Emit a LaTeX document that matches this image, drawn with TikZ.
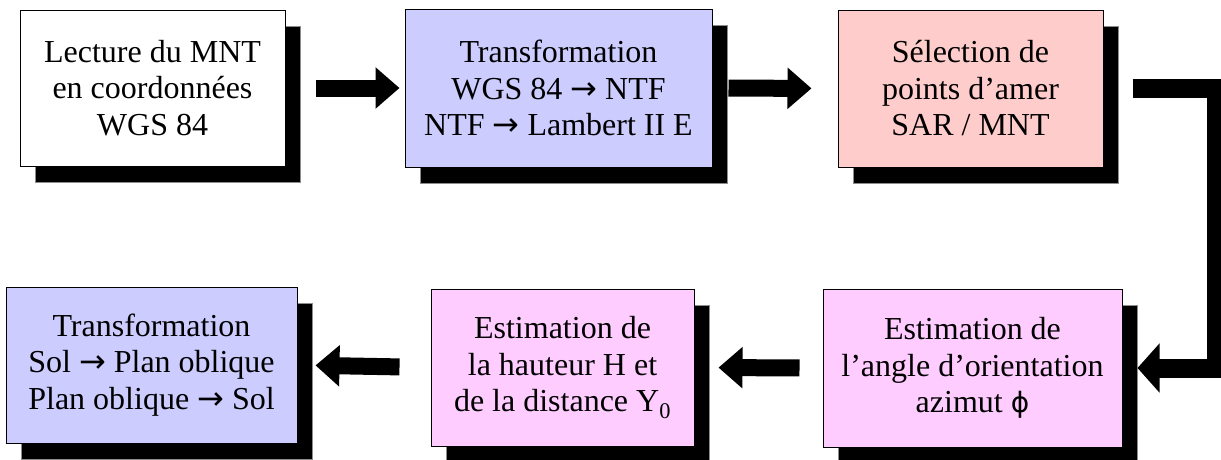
\documentclass[tikz,border=0pt]{standalone}
\usepackage{fontspec}
\setmainfont{Liberation Serif}
\newfontfamily\symfont{DejaVu Sans}
\usepackage{tikz}
\usetikzlibrary{arrows.meta,shadows}
\definecolor{lavbox}{RGB}{204,204,255}
\definecolor{rosebox}{RGB}{255,204,204}
\definecolor{mauvebox}{RGB}{255,204,255}
\def\toarrow{{\symfont\fontsize{32}{30}\selectfont\char"2192}}
\tikzset{
	stepbox/.style={draw=black, line width=1pt, inner sep=0pt, align=center,
		font=\fontsize{32}{36.5}\selectfont,
		drop shadow={shadow xshift=15pt, shadow yshift=-16pt, fill=black, draw=black!45, opacity=1}},
	flow/.style={line width=17pt, -{Triangle[length=24pt,width=40pt]}}
}

\begin{document}
\begin{tikzpicture}[x=1pt, y=-1pt]
			%%%%% START %%%%%
			
			\useasboundingbox (0, 0) rectangle (1221, 459);
			
			\node[stepbox, fill=white, minimum width=265pt, minimum height=156pt] (b1) at (152.5, 88)
				{Lecture du MNT\\en coordonnées\\WGS 84};
			\node[stepbox, fill=lavbox, minimum width=307pt, minimum height=158pt] (b2) at (558.5, 88)
				{Transformation\\WGS 84 \toarrow\ NTF\\NTF \toarrow\ Lambert II E};
			\node[stepbox, fill=rosebox, minimum width=265pt, minimum height=157pt] (b3) at (970.5, 88.5)
				{Sélection de\\points d’amer\\SAR / MNT};
			
			\node[stepbox, fill=mauvebox, minimum width=299pt, minimum height=158pt] (b6) at (972.5, 368)
				{Estimation de\\l’angle d’orientation\\azimut {\symfont\fontsize{28}{30}\selectfont\char"03D5}};
			\node[stepbox, fill=mauvebox, minimum width=263pt, minimum height=157pt] (b5) at (562.5, 367.5)
				{Estimation de\\la hauteur H et\\de la distance Y\textsubscript{0}};
			\node[stepbox, fill=lavbox, minimum width=291pt, minimum height=156pt] (b4) at (151.5, 365)
				{Transformation\\Sol \toarrow\ Plan oblique\\Plan oblique \toarrow\ Sol};
			
			\draw[flow, shorten <=30pt, shorten >=5pt] (b1.east) -- (b2.west);
			\draw[flow, shorten <=16pt, shorten >=26pt] (b2.east) -- (b3.west);
			\draw[flow, line width=19pt, -{Triangle[length=22pt,width=48pt]}]
				([xshift=29pt]b3.east) -- ([xshift=113pt]b3.east) |- ([xshift=15pt]b6.east);
			\draw[flow, shorten <=23pt, shorten >=24pt] (b6.west) -- (b5.east);
			\draw[flow, shorten <=31pt, shorten >=18pt] (b5.west) -- (b4.east);
			
			%%%%% END %%%%%
		\end{tikzpicture}
\end{document}
